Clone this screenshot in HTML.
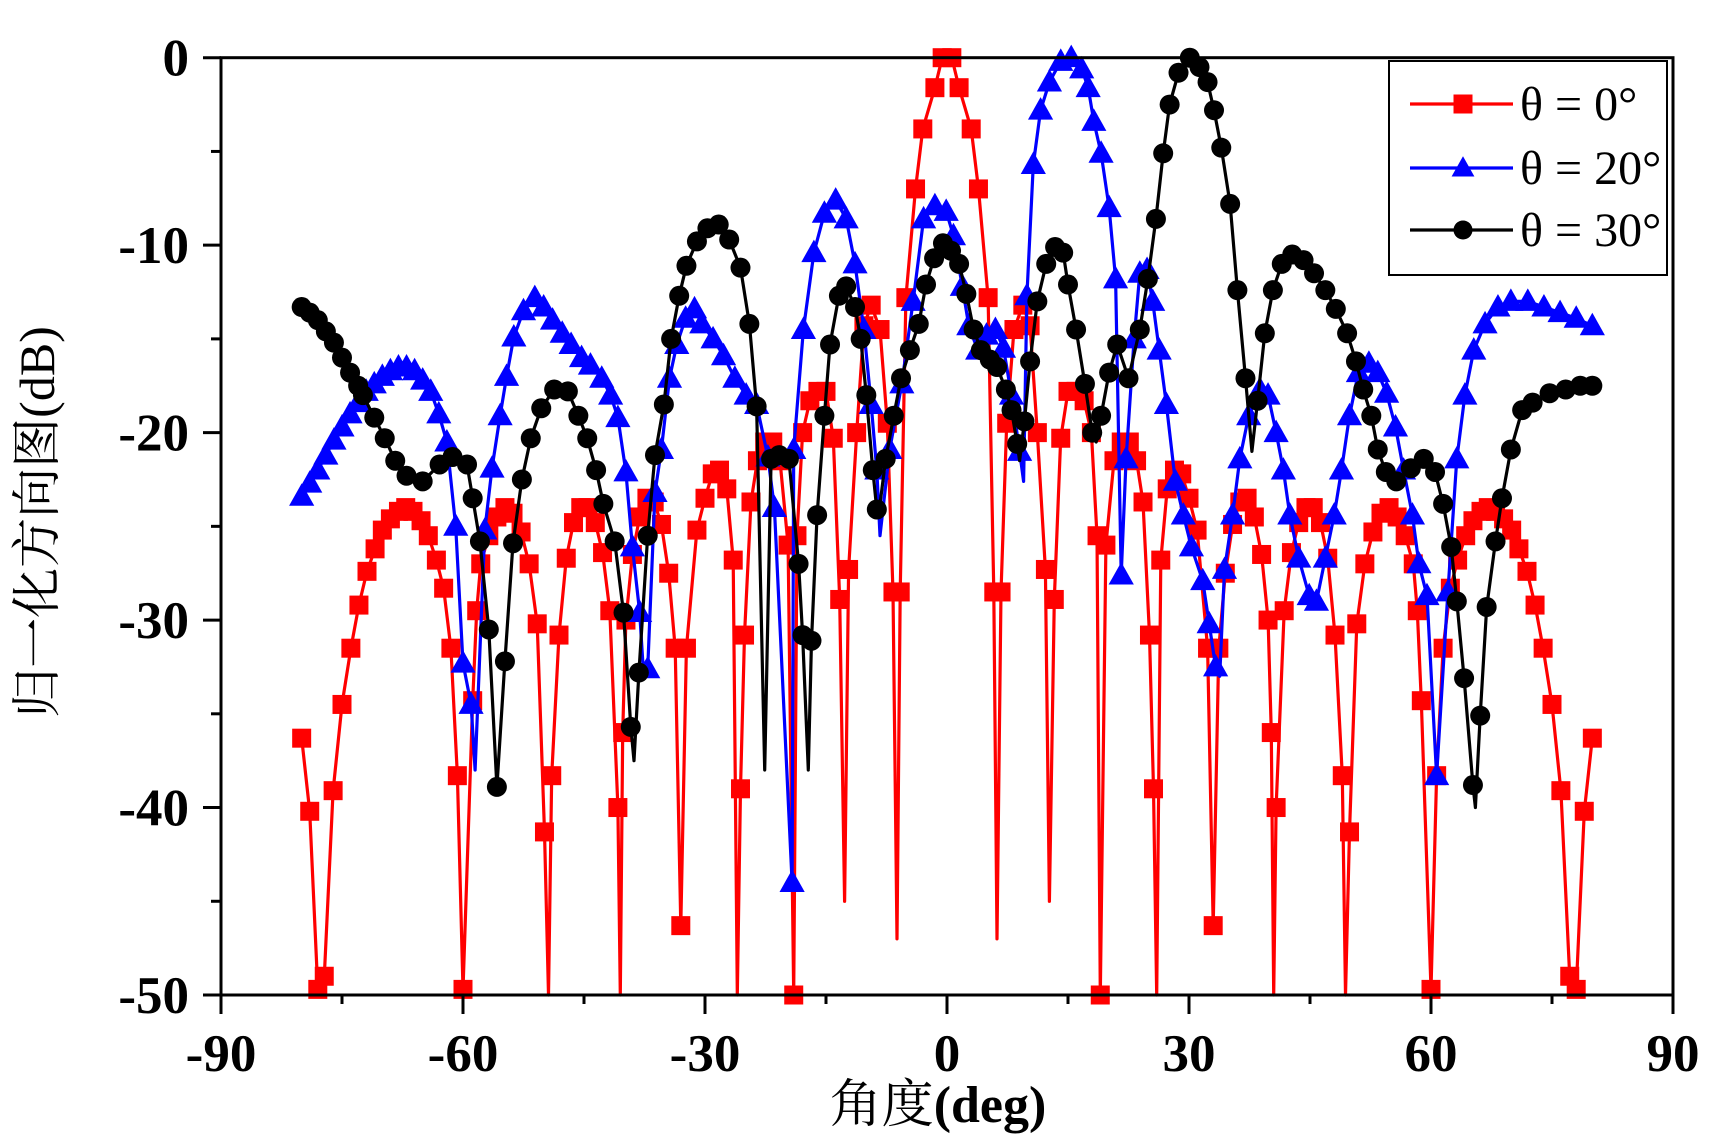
<!DOCTYPE html>
<html><head><meta charset="utf-8"><style>
html,body{margin:0;padding:0;background:#fff;}
svg{display:block;}
</style></head><body>
<svg id="chart" width="1717" height="1141" viewBox="0 0 1717 1141" xmlns="http://www.w3.org/2000/svg">
<g id="series"></g>
<g id="axes"></g>
<g id="legend"></g>
<text x="37" y="522" transform="rotate(-90 37 522)" text-anchor="middle" dominant-baseline="central" font-family="'Liberation Serif','Noto Serif CJK SC',serif" font-size="50">归一化方向图(dB)</text>
<text x="938" y="1122" text-anchor="middle" font-family="'Liberation Serif','Noto Serif CJK SC',serif" font-size="52">角度<tspan font-weight="bold">(deg)</tspan></text>
</svg>
<script>
// ---- data ----
const xTicks = [-90,-60,-30,0,30,60,90];
const yTicks = [0,-10,-20,-30,-40,-50];
const seriesNames = ["θ = 0°","θ = 20°","θ = 30°"];

const redAngles = [
 -80,-79,-78,-77.2,-76.1,-75,-73.9,-72.9,-71.9,
 -70.9,-70,-69,-68,-67.1,-66.2,-65.2,-64.3,-63.3,-62.4,
 -61.5,-60.7,-60,-58.8,-58.3,-57.8,-56.8,-55.8,-54.8,-53.8,
 -52.8,-51.8,-50.8,-49.9,-49,-48.1,-47.2,-46.3,-45.4,-44.5,
 -43.6,-42.7,-41.8,-40.8,-40.2,-39.8,-39,-38.1,-37.2,-36.3,
 -35.4,-34.5,-33.7,-33,-32.3,-31,-30,-29.1,-28.2,-27.3,
 -26.5,-25.6,-25.1,-24.3,-23.5,-22.6,-21.6,-20.7,-19.7,-19,
 -18.6,-17.9,-17,-16,-15,-14.1,-13.3,-12.2,-11.2,-10.3,
 -9.4,-8.3,-7.4,-6.7,-5.8,-5.1,-3.9,-3,-1.5,-0.6,
 0.6,1.5,3,3.9,5.1,5.8,6.7,7.4,8.3,9.4,
 10.3,11.2,12.2,13.3,14.1,15,16,17,17.9,18.6,
 19,19.7,20.7,21.6,22.6,23.5,24.3,25.1,25.6,26.5,
 27.3,28.2,29.1,30,31,32.3,33,33.7,34.5,35.4,
 36.3,37.2,38.1,39,39.8,40.2,40.8,41.8,42.7,43.6,
 44.5,45.4,46.3,47.2,48.1,49,49.9,50.8,51.8,52.8,
 53.8,54.8,55.8,56.8,57.8,58.3,58.8,60,60.7,61.5,
 62.4,63.3,64.3,65.2,66.2,67.1,68,69,70,70.9,
 71.9,72.9,73.9,75,76.1,77.2,78,79,80];
const redValues = [
 -36.3,-40.2,-49.7,-49,-39.1,-34.5,-31.5,-29.2,-27.4,
 -26.2,-25.2,-24.6,-24.2,-24,-24.2,-24.7,-25.5,-26.8,-28.3,
 -31.5,-38.3,-49.7,-34.3,-29.5,-27,-25.5,-24.5,-24,-24.3,
 -25.3,-27,-30.2,-41.3,-38.3,-30.8,-26.7,-24.8,-24,-24,
 -24.8,-26.4,-29.5,-40,-36,-30,-26.5,-24.5,-23.5,-23.7,
 -24.9,-27.5,-31.5,-46.3,-31.5,-25.2,-23.5,-22.2,-22,-23,
 -26.8,-39,-30.8,-23.7,-21.5,-20.5,-20.5,-21.5,-26,-50,
 -25.5,-20,-18.3,-17.8,-17.8,-20.3,-28.9,-27.3,-20,-14.3,
 -13.2,-14.5,-19.5,-28.5,-28.5,-12.8,-7,-3.8,-1.6,0,
 0,-1.6,-3.8,-7,-12.8,-28.5,-28.5,-19.5,-14.5,-13.2,
 -14.3,-20,-27.3,-28.9,-20.3,-17.8,-17.8,-18.3,-20,-25.5,
 -50,-26,-21.5,-20.5,-20.5,-21.5,-23.7,-30.8,-39,-26.8,
 -23,-22,-22.2,-23.5,-25.2,-31.5,-46.3,-31.5,-27.5,-24.9,
 -23.7,-23.5,-24.5,-26.5,-30,-36,-40,-29.5,-26.4,-24.8,
 -24,-24,-24.8,-26.7,-30.8,-38.3,-41.3,-30.2,-27,-25.3,
 -24.3,-24,-24.5,-25.5,-27,-29.5,-34.3,-49.7,-38.3,-31.5,
 -28.3,-26.8,-25.5,-24.7,-24.2,-24,-24.2,-24.6,-25.2,-26.2,
 -27.4,-29.2,-31.5,-34.5,-39.1,-49,-49.7,-40.2,-36.3];
const redNullAngles = [-77.6,-49.4,-40.5,-26,-12.7,-6.2,6.2,12.7,26,40.5,49.4,77.6];
const redNullValues = [-50,-50,-50,-50,-45,-47,-47,-45,-50,-50,-50,-50];

const blueAngles = [-80,-79,-78,-77,-76,-75,-74,-73,-72,-71,-70,-69,-68,-67,-66,-65,-64,-63,-62,-60.9,-60,-59,-57.3,-56.4,-55.4,-54.6,-53.7,-52.5,-51.1,-50,-48.9,-47.7,-46.6,-45.3,-44.2,-42.8,-41.7,-40.8,-39.8,-39,-38.1,-37.1,-36.2,-35.4,-34.4,-33.5,-32.4,-31.3,-30.4,-29,-27.7,-26.3,-24.9,-23.6,-22.2,-21.4,-19.2,-19,-17.8,-16.5,-15.2,-13.8,-12.5,-11.4,-10.3,-9.4,-8.7,-7.1,-5.6,-4.2,-2.9,-1.5,-0.1,0.8,1.9,2.7,3.8,4.9,6,7,8,9,9.9,10.7,11.6,12.7,14.1,15.4,16.7,17.5,18.2,19.1,20.1,20.9,21.6,22.2,23.2,23.9,24.8,25.5,26.3,27.2,28.3,29.3,30.3,31.7,32.5,33.3,34.4,35.4,36.3,37.4,38.8,39.8,40.8,41.7,42.5,43.6,44.9,45.8,46.9,48,48.9,49.9,51,52.3,53.4,54.5,55.6,56.6,57.7,58.5,59.5,60.7,62.1,63.2,64.2,65.3,66.7,68.3,69.9,72,74,76,78,80];
const blueValues = [-23.4,-22.7,-22,-21.2,-20.4,-19.7,-19,-18.4,-17.8,-17.4,-17,-16.7,-16.5,-16.5,-16.7,-17.2,-17.8,-19,-20.5,-25,-32.3,-34.5,-25.2,-21.9,-19.1,-17,-14.9,-13.5,-12.8,-13.3,-14,-14.7,-15.3,-16,-16.4,-17.1,-18,-19.2,-22.1,-26.1,-29.6,-32.6,-23.2,-20.9,-17.1,-15.3,-13.9,-13.4,-14.2,-15,-15.9,-17.1,-18,-18.5,-21.3,-24,-44,-20.9,-14.5,-10.4,-8.3,-7.6,-8.6,-11,-14.5,-18.5,-22,-20.9,-17.4,-13,-8.6,-7.9,-8.2,-9.5,-12.2,-14.3,-15.6,-14.8,-14.5,-15.5,-18,-21,-12.7,-5.7,-2.8,-1.3,-0.2,0,-0.6,-1.6,-3.4,-5.1,-8,-11.8,-27.6,-21.4,-15,-11.5,-11.3,-13,-15.6,-18.5,-22.6,-24.4,-26.1,-27.9,-30.2,-32.5,-27.3,-24.4,-21.4,-19.1,-17.7,-18,-20,-22,-24.4,-26.7,-28.7,-29,-26.7,-24.4,-22,-19.1,-16.8,-16.3,-16.8,-17.9,-19.7,-22,-24.4,-27,-28.7,-38.3,-28.5,-21.4,-18,-15.6,-14.2,-13.3,-13,-13,-13.3,-13.6,-13.9,-14.3];
const blueNullAngles = [-58.5,-37.6,-8.3,9.5,33.8];
const blueNullValues = [-38,-33,-25.5,-22.6,-33];

const blackAngles = [-80,-79,-78,-77,-76,-75,-74,-73,-72.4,-71,-69.7,-68.4,-67,-65,-62.9,-61.3,-59.5,-58.8,-57.9,-56.8,-55.8,-54.8,-53.8,-52.7,-51.6,-50.3,-48.7,-47,-45.7,-44.6,-43.5,-42.6,-41.2,-40.1,-39.2,-38.2,-37.1,-36.2,-35.1,-34.2,-33.2,-32.3,-31,-29.7,-28.3,-27,-25.6,-24.5,-23.6,-21.8,-20.8,-19.6,-18.4,-17.9,-16.8,-16.1,-15.2,-14.5,-13.4,-12.5,-11.4,-10.7,-10,-9.2,-8.7,-7.6,-6.6,-5.7,-4.6,-3.5,-2.6,-1.6,-0.5,0.5,1.5,2.4,3.3,4.2,5.3,6.2,7.3,8,8.7,9.6,10.3,11.2,12.3,13.4,14.4,15,16,17.1,18,19.1,20.1,21.1,22.5,23.9,24.9,25.9,26.8,27.6,28.7,30.1,31.3,32.3,33.1,34,35.1,36,37,38.5,39.4,40.4,41.5,42.8,44.2,45.5,46.9,48.2,49.6,50.7,51.6,52.6,53.4,54.4,55.7,57.5,59.1,60.5,61.5,62.5,63.2,64.1,65.2,66.1,66.9,68,68.8,69.9,71.3,72.6,74.7,76.7,78.5,80];
const blackValues = [-13.3,-13.6,-14,-14.6,-15.2,-16,-16.8,-17.5,-18,-19.2,-20.3,-21.5,-22.3,-22.6,-21.7,-21.3,-21.7,-23.5,-25.8,-30.5,-38.9,-32.2,-25.9,-22.5,-20.3,-18.7,-17.7,-17.8,-19.1,-20.3,-22,-23.8,-25.8,-29.6,-35.7,-32.8,-25.5,-21.2,-18.5,-15,-12.7,-11.1,-9.8,-9.1,-8.9,-9.7,-11.2,-14.2,-18.6,-21.4,-21.2,-21.4,-27,-30.8,-31.1,-24.4,-19.1,-15.3,-12.7,-12.2,-13.3,-15,-18,-22,-24.1,-21.4,-19.1,-17.1,-15.6,-14.2,-12.1,-10.7,-9.9,-10.3,-11,-12.6,-14.5,-15.6,-16.1,-16.5,-17.7,-18.8,-20.6,-19.4,-16.2,-13,-11,-10.1,-10.4,-12.1,-14.5,-17.4,-20,-19.1,-16.8,-15.3,-17.1,-14.5,-11.8,-8.6,-5.1,-2.5,-0.8,0,-0.5,-1.3,-2.8,-4.8,-7.8,-12.4,-17.1,-18.3,-14.7,-12.4,-11,-10.5,-10.8,-11.5,-12.4,-13.4,-14.7,-16.2,-17.7,-19.1,-20.9,-22.1,-22.6,-21.9,-21.4,-22.1,-23.8,-26.1,-29,-33.1,-38.8,-35.1,-29.3,-25.8,-23.5,-20.9,-18.8,-18.4,-17.9,-17.7,-17.5,-17.5];
const blackNullAngles = [-38.8,-22.6,-17.2,-8.5,9,18.5,37.8,65.5];
const blackNullValues = [-37.5,-38,-38,-24.5,-21.5,-20.5,-21,-40];

// ---- axis functions ----
const X0=221, X1=1673, Y0=57.7, Y1=995;
const xs = d => X0 + (d + 90) / 180 * (X1 - X0);
const ys = v => Y0 + (0 - v) / 50 * (Y1 - Y0);
const NS="http://www.w3.org/2000/svg";
function mk(tag, attrs, parent){const e=document.createElementNS(NS,tag);for(const k in attrs)e.setAttribute(k,attrs[k]);parent.appendChild(e);return e;}

const series = document.getElementById('series');
const axes = document.getElementById('axes');
const legend = document.getElementById('legend');

function marker(kind, cx, cy, color, parent, s){
  let m;
  if(kind==='square'){ m=mk('rect',{x:cx-s/2,y:cy-s/2,width:s,height:s,fill:color},parent); }
  else if(kind==='triangle'){ m=mk('polygon',{points:`${cx},${cy-s*0.62} ${cx-s*0.6},${cy+s*0.45} ${cx+s*0.6},${cy+s*0.45}`,fill:color},parent); }
  else { m=mk('circle',{cx:cx,cy:cy,r:s/2,fill:color},parent); }
  return m;
}

const defs = [
  {angles:redAngles, values:redValues, nA:redNullAngles, nV:redNullValues, color:'#ff0000', kind:'square', name:'series-theta-0', size:19},
  {angles:blueAngles, values:blueValues, nA:blueNullAngles, nV:blueNullValues, color:'#0000ff', kind:'triangle', name:'series-theta-20', size:21},
  {angles:blackAngles, values:blackValues, nA:blackNullAngles, nV:blackNullValues, color:'#000000', kind:'circle', name:'series-theta-30', size:20}
];
defs.forEach(d=>{
  const g = mk('g',{},series);
  
  
  const n = Math.min(d.angles.length, d.values.length);
  const all = [];
  for(let i=0;i<n;i++) all.push([d.angles[i], d.values[i]]);
  d.nA.forEach((a,i)=>all.push([a,d.nV[i]]));
  all.sort((p,q)=>p[0]-q[0]);
  const pts = all.map(p=>xs(p[0]).toFixed(1)+','+ys(Math.max(-50,p[1])).toFixed(1)).join(' ');
  const line = mk('polyline',{points:pts,fill:'none',stroke:d.color,'stroke-width':3.2,'stroke-linejoin':'round'},g);
  
  
  for(let i=0;i<n;i++){
    const m = marker(d.kind, xs(d.angles[i]), ys(Math.max(-50,d.values[i])), d.color, g, d.size);
    
    
  }
});

const frame = mk('rect',{x:X0,y:Y0,width:X1-X0,height:Y1-Y0,fill:'none',stroke:'#000','stroke-width':3},axes);



const tickFont = "'Liberation Serif',serif";
for(let d=-90; d<=90; d+=15){
  const major = xTicks.includes(d);
  const t = mk('line',{x1:xs(d),x2:xs(d),y1:Y1,y2:Y1+(major?19:9),stroke:'#000','stroke-width':3},axes);
  
  
}
xTicks.forEach(d=>{
  const t = mk('text',{x:xs(d),y:1071,'text-anchor':'middle','font-family':tickFont,'font-size':53,'font-weight':'bold'},axes);
  t.textContent = String(d);
  
  
});
for(let v=0; v>=-50; v-=5){
  const major = yTicks.includes(v);
  const t = mk('line',{x1:X0-(major?18:10),x2:X0,y1:ys(v),y2:ys(v),stroke:'#000','stroke-width':3},axes);
  
  
}
yTicks.forEach(v=>{
  const t = mk('text',{x:189,y:ys(v)+18,'text-anchor':'end','font-family':tickFont,'font-size':53,'font-weight':'bold'},axes);
  t.textContent = String(v);
  
  
});

const lbox = mk('rect',{x:1389,y:61,width:278,height:214,fill:'#fff',stroke:'#000','stroke-width':2},legend);


const rowsY=[104,168,230];
defs.forEach((d,i)=>{
  const g = mk('g',{},legend);
  
  
  mk('line',{x1:1410,x2:1513,y1:rowsY[i],y2:rowsY[i],stroke:d.color,'stroke-width':3.2},g);
  marker(d.kind,1463,rowsY[i],d.color,g,19);
  const t = mk('text',{x:1520,y:rowsY[i]+16,'font-family':tickFont,'font-size':48},g);
  t.textContent = seriesNames[i];
});
</script>
</body></html>
